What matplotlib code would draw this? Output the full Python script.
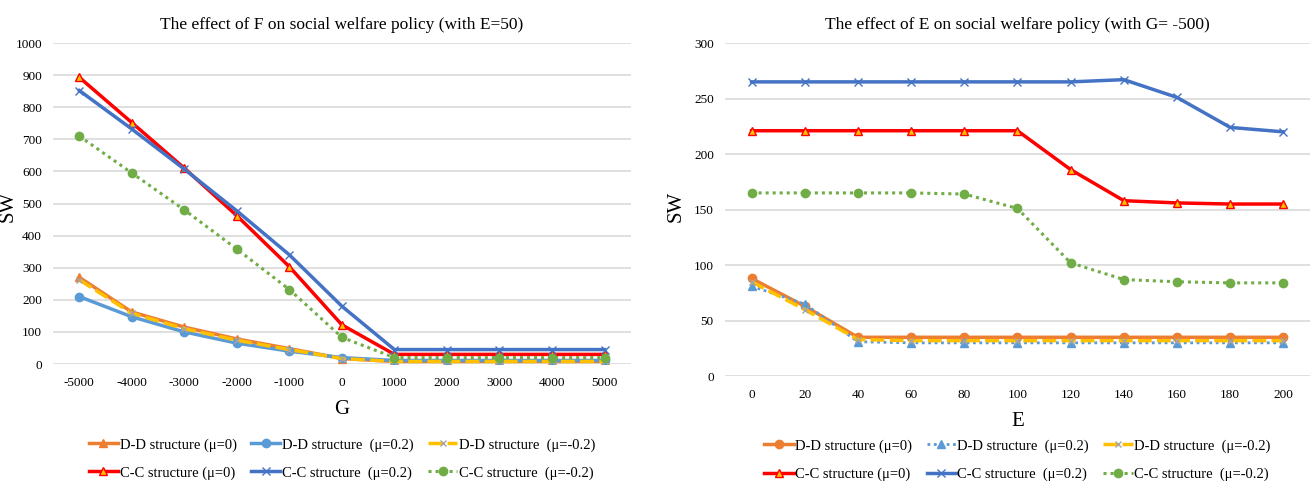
import matplotlib
matplotlib.use("Agg")
import matplotlib.pyplot as plt
import numpy as np

# -----------------------------
# Data
# -----------------------------
g_labels = ["-5000", "-4000", "-3000", "-2000", "-1000", "0",
            "1000", "2000", "3000", "4000", "5000"]
e_labels = ["0", "20", "40", "60", "80", "100", "120", "140", "160", "180", "200"]

# left panel: effect of G (E=50)
dd0_g = [270, 162, 115, 78, 48, 17, 8, 8, 8, 8, 8]
dd2_g = [210, 147, 100, 65, 40, 20, 11, 11, 11, 11, 11]
ddm_g = [262, 158, 110, 74, 45, 17, 8, 8, 8, 8, 8]
cc0_g = [893, 752, 610, 462, 303, 122, 30, 30, 30, 30, 30]
cc2_g = [852, 732, 607, 477, 340, 180, 45, 45, 45, 45, 45]
ccm_g = [710, 595, 480, 358, 232, 83, 20, 20, 20, 20, 20]

# right panel: effect of E (G=-500)
dd0_e = [88, 63, 35, 35, 35, 35, 35, 35, 35, 35, 35]
dd2_e = [81, 65, 31, 30, 30, 30, 30, 30, 30, 30, 30]
ddm_e = [85, 60, 33, 32, 32, 32, 32, 32, 32, 32, 32]
cc0_e = [221, 221, 221, 221, 221, 221, 186, 158, 156, 155, 155]
cc2_e = [265, 265, 265, 265, 265, 265, 265, 267, 251, 224, 220]
ccm_e = [165, 165, 165, 165, 164, 151, 102, 87, 85, 84, 84]

ORANGE = "#ED7D31"
LBLUE = "#5B9BD5"
YELLOW = "#FFC000"
RED = "#FF0000"
BLUE = "#4472C4"
GREEN = "#70AD47"

plt.rcParams['font.family'] = ['Liberation Serif', 'DejaVu Serif']

fig = plt.figure(figsize=(13.1, 4.86), dpi=100)


def style_axes(ax, labels, ymax, ystep):
    ax.set_xticks(range(len(labels)))
    ax.set_xticklabels(labels, fontsize=9.5)
    ax.set_yticks(np.arange(0, ymax + 1, ystep))
    ax.tick_params(axis='y', labelsize=9.5, pad=8)
    ax.tick_params(axis='x', pad=9)
    ax.tick_params(length=0)
    ax.set_ylim(0, ymax)
    ax.set_xlim(-0.5, 10.5)
    for s in ax.spines.values():
        s.set_visible(False)
    ax.grid(axis='y', color='#D9D9D9', linewidth=1.2)
    ax.set_axisbelow(True)


def add_legend(ax, y_off):
    h, l = ax.get_legend_handles_labels()
    # matplotlib fills columns first, reorder so rows read D-D then C-C
    order = [0, 3, 1, 4, 2, 5]
    ax.legend([h[i] for i in order], [l[i] for i in order],
              loc='upper center', bbox_to_anchor=(0.5, y_off), ncol=3,
              frameon=False, fontsize=10.5, handlelength=2.0,
              columnspacing=1.0, handletextpad=0.1, labelspacing=1.0)


# -----------------------------
# Left panel
# -----------------------------
ax1 = fig.add_axes([0.0405, 0.251, 0.441, 0.6605])
x = np.arange(len(g_labels))
ax1.plot(x, dd0_g, color=ORANGE, lw=2.5, marker='^', ms=6, label="D-D structure (μ=0)")
ax1.plot(x, dd2_g, color=LBLUE, lw=2.5, marker='o', ms=6, label="D-D structure  (μ=0.2)")
ax1.plot(x, ddm_g, color=YELLOW, lw=2.5, ls=(0, (4, 1.5)), marker='x', ms=5,
         mec='#A5A5A5', label="D-D structure  (μ=-0.2)")
ax1.plot(x, cc0_g, color=RED, lw=2.5, marker='^', ms=6, mfc=YELLOW, mec=RED,
         label="C-C structure (μ=0)")
ax1.plot(x, cc2_g, color=BLUE, lw=2.5, marker='x', ms=6, label="C-C structure  (μ=0.2)")
ax1.plot(x, ccm_g, color=GREEN, lw=2.2, ls=(0, (1, 1.3)), marker='o', ms=6,
         label="C-C structure  (μ=-0.2)")
style_axes(ax1, g_labels, 1000, 100)
ax1.set_title("The effect of F on social welfare policy (with E=50)", fontsize=12.5, pad=10)
ax1.set_xlabel("G", fontsize=15, labelpad=8)
ax1.set_ylabel("SW", fontsize=15)
ax1.yaxis.set_label_coords(-0.062, 0.49)
add_legend(ax1, -0.19)

# -----------------------------
# Right panel
# -----------------------------
ax2 = fig.add_axes([0.5534, 0.226, 0.4466, 0.6855])
x = np.arange(len(e_labels))
ax2.plot(x, dd0_e, color=ORANGE, lw=2.5, marker='o', ms=6, label="D-D structure (μ=0)")
ax2.plot(x, dd2_e, color=LBLUE, lw=2, ls=(0, (1, 1.3)), marker='^', ms=6,
         label="D-D structure  (μ=0.2)")
ax2.plot(x, ddm_e, color=YELLOW, lw=2.5, ls=(0, (4, 1.5)), marker='x', ms=5,
         mec='#A5A5A5', label="D-D structure  (μ=-0.2)")
ax2.plot(x, cc0_e, color=RED, lw=2.5, marker='^', ms=6, mfc=YELLOW, mec=RED,
         label="C-C structure (μ=0)")
ax2.plot(x, cc2_e, color=BLUE, lw=2.5, marker='x', ms=6, label="C-C structure  (μ=0.2)")
ax2.plot(x, ccm_e, color=GREEN, lw=2.2, ls=(0, (1, 1.3)), marker='o', ms=6,
         label="C-C structure  (μ=-0.2)")
style_axes(ax2, e_labels, 300, 50)
ax2.set_title("The effect of E on social welfare policy (with G= -500)", fontsize=12.5, pad=10)
ax2.set_xlabel("E", fontsize=15, labelpad=8)
ax2.set_ylabel("SW", fontsize=15)
ax2.yaxis.set_label_coords(-0.068, 0.51)
add_legend(ax2, -0.15)

fig.savefig("out.png", dpi=100)
